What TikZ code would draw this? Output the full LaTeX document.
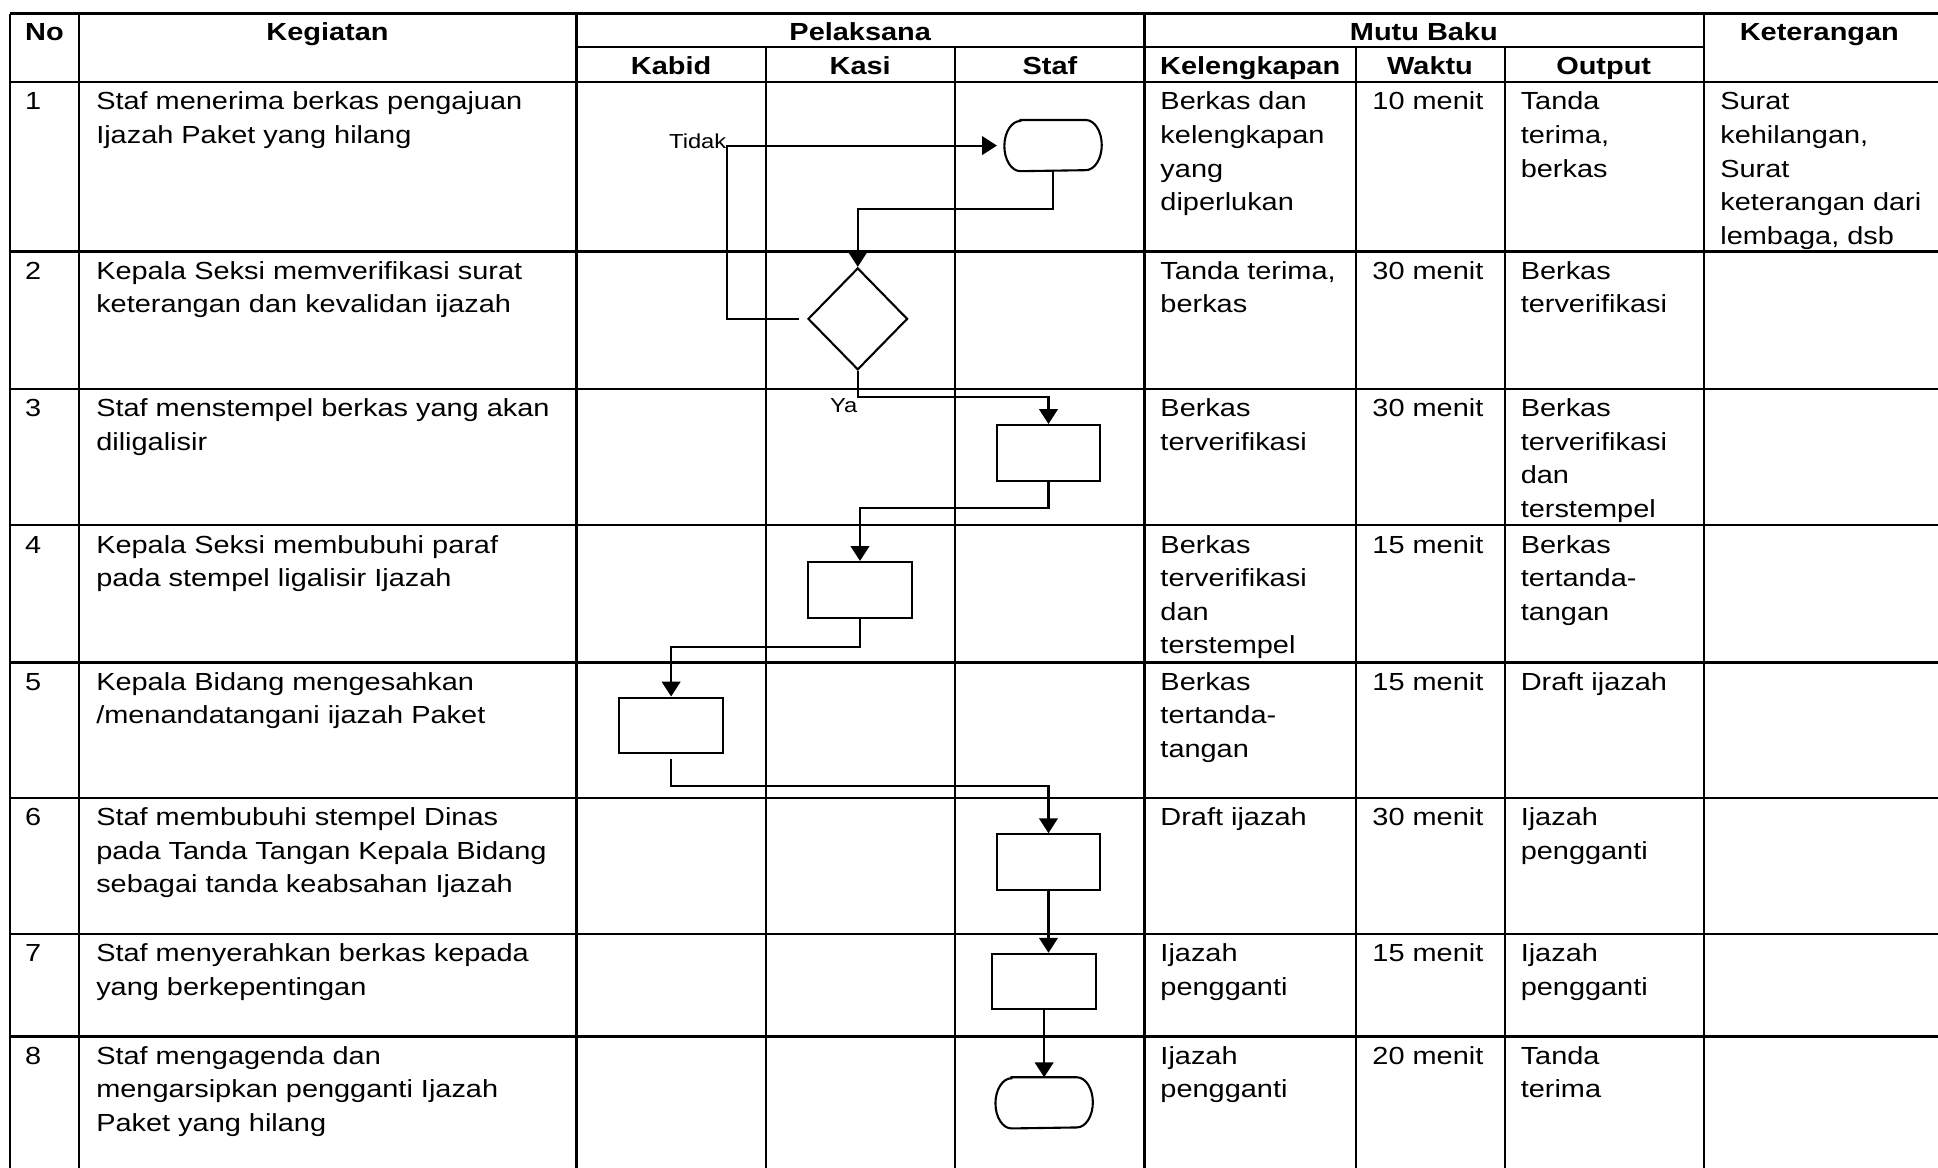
\documentclass[tikz,border=0pt]{standalone}
\usepackage{fontspec}
\setmainfont{Liberation Sans}[FakeStretch=1.17]
\usetikzlibrary{arrows.meta,shapes.geometric}
\newcommand{\celltext}[1]{\begin{tabular}[t]{@{}l@{}}#1\end{tabular}}
\tikzset{
  grid/.style={line width=0.95pt},
  flow/.style={line width=0.85pt,-{Triangle[length=6pt,width=7.5pt]}},
  shp/.style={draw,line width=0.85pt,inner sep=0pt},
  boxn/.style={shp,rectangle,minimum width=42pt,minimum height=22.5pt},
  termn/.style={rectangle,draw=none,inner sep=0pt,minimum width=39pt,minimum height=20.3pt},
  decn/.style={shp,diamond,minimum width=40.3pt,minimum height=41.2pt},
  txt/.style={anchor=base west,inner sep=0pt,font=\fontsize{10}{13.6}\selectfont},
  hdr/.style={anchor=base,inner sep=0pt,font=\fontsize{10}{13.6}\selectfont\bfseries},
  lbl/.style={anchor=base east,inner sep=0pt,font=\fontsize{8.2}{10}\selectfont}
}
\begin{document}
\begin{tikzpicture}[x=0.5pt,y=-0.5pt]
\useasboundingbox (0,0) rectangle (1568,945);
\fill[white] (0,0) rectangle (1568,945);
% ---- table grid ----
\draw[grid] (8,11) -- (1570,11);
\draw[grid] (466.5,38) -- (1378.6,38);
\foreach \yy in {66.5,203.5,314.5,425,536,645.5,755.5,838.5}
  \draw[grid] (8,\yy) -- (1570,\yy);
\foreach \xx in {8,64,466.5,926,1378.6}
  \draw[grid] (\xx,11) -- (\xx,947);
\foreach \xx in {619.8,772.7,1097.3,1217.5}
  \draw[grid] (\xx,38) -- (\xx,947);
% ---- headers ----
\node[hdr] (hno) at (36,32.5) {No};
\node[hdr] (hkeg) at (265,32.5) {Kegiatan};
\node[hdr] (hpel) at (696,32.5) {Pelaksana};
\node[hdr] (hmutu) at (1152,32.5) {Mutu Baku};
\node[hdr] (hket) at (1472,32.5) {Keterangan};
\node[hdr] (hkabid) at (543,60.5) {Kabid};
\node[hdr] (hkasi) at (696,60.5) {Kasi};
\node[hdr] (hstaf) at (849.5,60.5) {Staf};
\node[hdr] (hkel) at (1011.5,60.5) {Kelengkapan};
\node[hdr] (hwak) at (1157,60.5) {Waktu};
\node[hdr] (hout) at (1297.5,60.5) {Output};
% ---- row 1 ----
\node[txt] (r1no) at (20,89) {1};
\node[txt] (r1keg) at (77.5,89) {\celltext{Staf menerima berkas pengajuan\\Ijazah Paket yang hilang}};
\node[txt] (r1kel) at (938.5,89) {\celltext{Berkas dan\\kelengkapan\\yang\\diperlukan}};
\node[txt] (r1wak) at (1110,89) {10 menit};
\node[txt] (r1out) at (1230,89) {\celltext{Tanda\\terima,\\berkas}};
\node[txt] (r1ket) at (1391.5,89) {\celltext{Surat\\kehilangan,\\Surat\\keterangan dari\\lembaga, dsb}};
% ---- row 2 ----
\node[txt] (r2no) at (20,226) {2};
\node[txt] (r2keg) at (77.5,226) {\celltext{Kepala Seksi memverifikasi surat\\keterangan dan kevalidan ijazah}};
\node[txt] (r2kel) at (938.5,226) {\celltext{Tanda terima,\\berkas}};
\node[txt] (r2wak) at (1110,226) {30 menit};
\node[txt] (r2out) at (1230,226) {\celltext{Berkas\\terverifikasi}};
% ---- row 3 ----
\node[txt] (r3no) at (20,337) {3};
\node[txt] (r3keg) at (77.5,337) {\celltext{Staf menstempel berkas yang akan\\diligalisir}};
\node[txt] (r3kel) at (938.5,337) {\celltext{Berkas\\terverifikasi}};
\node[txt] (r3wak) at (1110,337) {30 menit};
\node[txt] (r3out) at (1230,337) {\celltext{Berkas\\terverifikasi\\dan\\terstempel}};
% ---- row 4 ----
\node[txt] (r4no) at (20,447.5) {4};
\node[txt] (r4keg) at (77.5,447.5) {\celltext{Kepala Seksi membubuhi paraf\\pada stempel ligalisir Ijazah}};
\node[txt] (r4kel) at (938.5,447.5) {\celltext{Berkas\\terverifikasi\\dan\\terstempel}};
\node[txt] (r4wak) at (1110,447.5) {15 menit};
\node[txt] (r4out) at (1230,447.5) {\celltext{Berkas\\tertanda-\\tangan}};
% ---- row 5 ----
\node[txt] (r5no) at (20,558.5) {5};
\node[txt] (r5keg) at (77.5,558.5) {\celltext{Kepala Bidang mengesahkan\\/menandatangani ijazah Paket}};
\node[txt] (r5kel) at (938.5,558.5) {\celltext{Berkas\\tertanda-\\tangan}};
\node[txt] (r5wak) at (1110,558.5) {15 menit};
\node[txt] (r5out) at (1230,558.5) {Draft ijazah};
% ---- row 6 ----
\node[txt] (r6no) at (20,668) {6};
\node[txt] (r6keg) at (77.5,668) {\celltext{Staf membubuhi stempel Dinas\\pada Tanda Tangan Kepala Bidang\\sebagai tanda keabsahan Ijazah}};
\node[txt] (r6kel) at (938.5,668) {Draft ijazah};
\node[txt] (r6wak) at (1110,668) {30 menit};
\node[txt] (r6out) at (1230,668) {\celltext{Ijazah\\pengganti}};
% ---- row 7 ----
\node[txt] (r7no) at (20,778) {7};
\node[txt] (r7keg) at (77.5,778) {\celltext{Staf menyerahkan berkas kepada\\yang berkepentingan}};
\node[txt] (r7kel) at (938.5,778) {\celltext{Ijazah\\pengganti}};
\node[txt] (r7wak) at (1110,778) {15 menit};
\node[txt] (r7out) at (1230,778) {\celltext{Ijazah\\pengganti}};
% ---- row 8 ----
\node[txt] (r8no) at (20,861) {8};
\node[txt] (r8keg) at (77.5,861) {\celltext{Staf mengagenda dan\\mengarsipkan pengganti Ijazah\\Paket yang hilang}};
\node[txt] (r8kel) at (938.5,861) {\celltext{Ijazah\\pengganti}};
\node[txt] (r8wak) at (1110,861) {20 menit};
\node[txt] (r8out) at (1230,861) {\celltext{Tanda\\terima}};
% ---- flow shapes ----
\node[termn] (t1) at (852,117.8) {};
\node[decn] (d2) at (694,258) {};
\node[boxn] (b3) at (848.3,366.4) {};
\node[boxn] (b4) at (695.8,477.2) {};
\node[boxn] (b5) at (543,586.9) {};
\node[boxn] (b6) at (848.3,697.5) {};
\node[boxn] (b7) at (844.8,794.2) {};
\node[termn] (t8) at (844.8,892.3) {};
\foreach \tn in {t1,t8}
  \draw[line width=0.85pt] ([xshift=6.5pt]\tn.north west) -- ([xshift=-6.5pt]\tn.north east)
    arc[start angle=90,end angle=-90,x radius=6.5pt,y radius=10.15pt]
    -- ([xshift=6.5pt]\tn.south west)
    arc[start angle=270,end angle=90,x radius=6.5pt,y radius=10.15pt] -- cycle;
% ---- connectors ----
\coordinate (tk) at (588,258);
\draw[flow,shorten <=3pt,shorten >=3pt] (d2.west) -- (tk) |- (t1.west);
\node[lbl] (ltidak) at (588,120) {Tidak};
\draw[flow] (t1.south) -- ++(0,30.5) -| (d2.north);
\draw[flow] (d2.south) -- ++(0,21) -| (b3.north);
\node[lbl] (lya) at (694,333.5) {Ya};
\draw[flow] (b3.south) -- ++(0,21.6) -| (b4.north);
\draw[flow] (b4.south) -- ++(0,22.7) -| (b5.north);
\draw[flow,shorten <=2pt] (b5.south) -- ++(0,25.7) -| (b6.north);
\draw[flow] (b6.south) -- (b6.south |- b7.north);
\draw[flow] (b7.south) -- (t8.north);
\end{tikzpicture}
\end{document}
